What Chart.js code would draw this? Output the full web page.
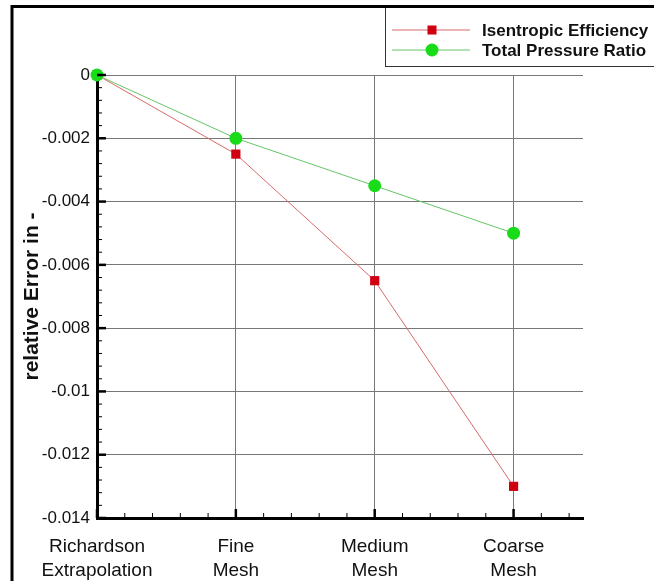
<!DOCTYPE html>
<html>
<head>
    <title>Relative Error</title>
    <script src="https://cdn.jsdelivr.net/npm/chart.js"></script>
    <style>
        html, body { margin: 0; padding: 0; background: #fff; }
        #wrap { width: 654px; height: 581px; }
    </style>
</head>
<body>
    <div id="wrap"><canvas id="errChart" width="654" height="581"></canvas></div>
<script>
// data
const categories = [['Richardson', 'Extrapolation'], ['Fine', 'Mesh'], ['Medium', 'Mesh'], ['Coarse', 'Mesh']];
const catPos = [0, 1, 2, 3];
const isentropicEff = [0, -0.0025, -0.0065, -0.013];
const totalPressure = [0, -0.002, -0.0035, -0.005];
const yTicks = [0, -0.002, -0.004, -0.006, -0.008, -0.01, -0.012, -0.014];
const yTickLabels = ['0', '-0.002', '-0.004', '-0.006', '-0.008', '-0.01', '-0.012', '-0.014'];
const seriesNames = ['Isentropic Efficiency', 'Total Pressure Ratio'];

const FONT = '"Liberation Sans", Arial, sans-serif';

// inside ticks (major + minor), outer frame and the boxed legend
const decorPlugin = {
    id: 'decor',
    afterDraw(chart) {
        const ctx = chart.ctx;
        const xs = chart.scales.x, ys = chart.scales.y;
        const area = chart.chartArea;
        ctx.save();
        ctx.strokeStyle = '#000';

        // y ticks
        const yStep = 0.002, yMinor = 5;
        for (let i = 0; i < yTicks.length; i++) {
            const py = ys.getPixelForValue(yTicks[i]);
            ctx.lineWidth = 2.5;
            ctx.beginPath(); ctx.moveTo(area.left, py); ctx.lineTo(area.left + 9, py); ctx.stroke();
            if (i < yTicks.length - 1) {
                ctx.lineWidth = 1;
                for (let k = 1; k < yMinor; k++) {
                    const my = ys.getPixelForValue(yTicks[i] - yStep * k / yMinor);
                    ctx.beginPath(); ctx.moveTo(area.left, my); ctx.lineTo(area.left + 5, my); ctx.stroke();
                }
            }
        }
        // x ticks
        const xMinor = 5;
        for (let i = 0; i < catPos.length; i++) {
            const px = xs.getPixelForValue(catPos[i]);
            ctx.lineWidth = 2.5;
            ctx.beginPath(); ctx.moveTo(px, area.bottom); ctx.lineTo(px, area.bottom - 9); ctx.stroke();
            ctx.lineWidth = 1;
            for (let k = 1; k < xMinor; k++) {
                const v = catPos[i] + k / xMinor;
                if (v > xs.max) break;
                const mx = xs.getPixelForValue(v);
                ctx.beginPath(); ctx.moveTo(mx, area.bottom); ctx.lineTo(mx, area.bottom - 5); ctx.stroke();
            }
        }

        // outer frame (cropped on the right and bottom)
        ctx.lineWidth = 3;
        ctx.strokeRect(12, 6.5, 900, 900);

        // legend box
        ctx.lineWidth = 1;
        ctx.strokeStyle = '#333';
        ctx.fillStyle = '#fff';
        ctx.fillRect(385.5, 8, 300, 58.5);
        ctx.strokeRect(385.5, 7.5, 300, 59);
        ctx.lineWidth = 3;
        ctx.strokeStyle = '#000';
        ctx.beginPath(); ctx.moveTo(380, 6.5); ctx.lineTo(654, 6.5); ctx.stroke();

        const rows = [30, 50];
        chart.data.datasets.forEach((ds, i) => {
            const y = rows[i];
            ctx.strokeStyle = ds.borderColor;
            ctx.lineWidth = 1;
            ctx.beginPath(); ctx.moveTo(392, y); ctx.lineTo(470, y); ctx.stroke();
            ctx.fillStyle = ds.pointBackgroundColor;
            if (ds.pointStyle === 'rect') {
                ctx.fillRect(427.5, y - 4.5, 9, 9);
            } else {
                ctx.beginPath(); ctx.arc(432, y, 6.5, 0, Math.PI * 2); ctx.fill();
            }
            ctx.fillStyle = '#111';
            ctx.font = 'bold 17px ' + FONT;
            ctx.textBaseline = 'middle';
            ctx.textAlign = 'left';
            ctx.fillText(ds.label, 482, y + 1);
        });
        ctx.restore();
    }
};

const ctx = document.getElementById('errChart').getContext('2d');
const errChart = new Chart(ctx, {
    type: 'line',
    data: {
        datasets: [{
            label: seriesNames[0],
            data: catPos.map((x, i) => ({ x: x, y: isentropicEff[i] })),
            borderColor: '#d86a6a',
            borderWidth: 1,
            pointStyle: 'rect',
            pointRadius: 6.5,
            pointBackgroundColor: '#d00010',
            pointBorderWidth: 0,
            clip: false,
            order: 1
        }, {
            label: seriesNames[1],
            data: catPos.map((x, i) => ({ x: x, y: totalPressure[i] })),
            borderColor: '#66c466',
            borderWidth: 1,
            pointStyle: 'circle',
            pointRadius: 6.5,
            pointBackgroundColor: '#18dc18',
            pointBorderWidth: 0,
            clip: false,
            order: 0
        }]
    },
    options: {
        responsive: false,
        animation: false,
        layout: { padding: { top: 75, right: 71, left: 0, bottom: 0 } },
        plugins: { legend: { display: false }, tooltip: { enabled: false } },
        scales: {
            x: {
                type: 'linear',
                min: 0,
                max: 3.5,
                afterBuildTicks: s => { s.ticks = catPos.map(v => ({ value: v })); },
                afterFit: s => { s.height = 63; },
                grid: { color: '#777', lineWidth: 1, drawTicks: false },
                border: { color: '#000', width: 3 },
                ticks: {
                    padding: 16,
                    color: '#111',
                    font: { family: FONT, size: 19, lineHeight: 1.3 },
                    maxRotation: 0,
                    callback: (v) => categories[catPos.indexOf(v)]
                }
            },
            y: {
                min: -0.014,
                max: 0,
                afterBuildTicks: s => { s.ticks = yTicks.map(v => ({ value: v })); },
                afterFit: s => { s.width = 97; },
                grid: { color: '#777', lineWidth: 1, drawTicks: false },
                border: { color: '#000', width: 3 },
                ticks: {
                    padding: 7,
                    color: '#111',
                    font: { family: FONT, size: 17 },
                    callback: (v) => yTickLabels[yTicks.indexOf(v)]
                },
                title: {
                    display: true,
                    text: 'relative Error in -',
                    color: '#111',
                    font: { family: FONT, size: 21, weight: 'bold' },
                    padding: { top: 20, bottom: 0 }
                }
            }
        }
    },
    plugins: [decorPlugin]
});
</script>
</body>
</html>
